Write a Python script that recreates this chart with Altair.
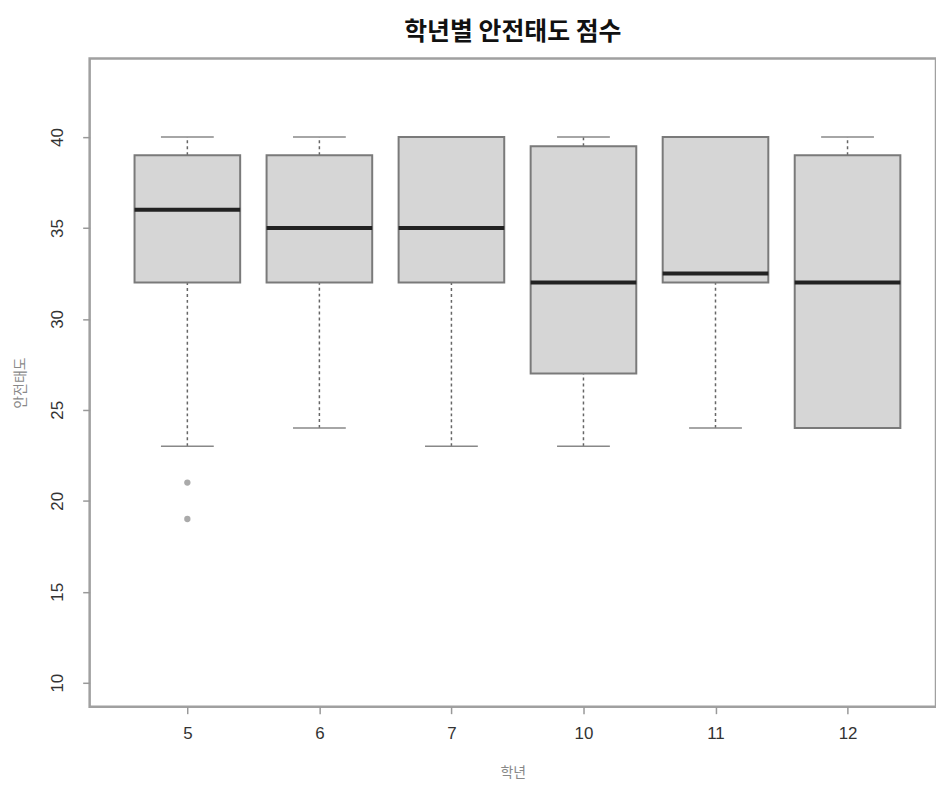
import altair as alt
import pandas as pd

grades = ["5", "6", "7", "10", "11", "12"]
lower_whisker = [23, 24, 23, 23, 24, 24]
q1 = [32, 32, 32, 27, 32, 24]
median = [36, 35, 35, 32, 32.5, 32]
q3 = [39, 39, 40, 39.5, 40, 39]
upper_whisker = [40, 40, 40, 40, 40, 40]

outlier_grade = ["5", "5"]
outlier_value = [21, 19]

positions = list(range(1, len(grades) + 1))
box_df = pd.DataFrame({
    "grade": grades, "pos": positions,
    "lower": lower_whisker, "q1": q1, "median": median,
    "q3": q3, "upper": upper_whisker,
})
out_df = pd.DataFrame({
    "grade": outlier_grade,
    "pos": [positions[grades.index(g)] for g in outlier_grade],
    "value": outlier_value,
})

label_map = "{" + ",".join(f"'{p}':'{g}'" for p, g in zip(positions, grades)) + "}"

xscale = alt.Scale(domain=[0.26, 6.67], nice=False, zero=False)
yscale = alt.Scale(domain=[8.68, 44.32], nice=False, zero=False)

x_axis = alt.Axis(
    values=positions, labelExpr=f"{label_map}[datum.value]", title="학년",
    domain=False, grid=False, tickSize=7, tickColor="#999", tickWidth=1.5,
    labelFont="Liberation Sans", labelFontSize=17, labelColor="#333",
    labelPadding=12, labelAngle=0,
    titleFont="Noto Sans CJK KR", titleFontSize=14, titleFontWeight="normal",
    titleColor="#888", titleY=66, titleBaseline="middle",
)
y_axis = alt.Axis(
    values=[10, 15, 20, 25, 30, 35, 40], title="안전태도",
    domain=False, grid=False, tickSize=7, tickColor="#999", tickWidth=1.5,
    labelFont="Liberation Sans", labelFontSize=17, labelColor="#333",
    labelAngle=-90, labelAlign="center", labelBaseline="bottom", labelPadding=16,
    titleFont="Noto Sans CJK KR", titleFontSize=14, titleFontWeight="normal",
    titleColor="#888", titleX=-69, titleY=325.5, titleAngle=-90,
    titleBaseline="middle", titleAlign="center",
)

base = alt.Chart(box_df).transform_calculate(
    left="datum.pos - 0.4", right="datum.pos + 0.4",
    capl="datum.pos - 0.2", capr="datum.pos + 0.2",
)

whisk_low = base.mark_rule(color="#666", strokeWidth=1.5, strokeDash=[3, 3]).encode(
    x=alt.X("pos:Q", scale=xscale, axis=x_axis),
    y=alt.Y("lower:Q", scale=yscale, axis=y_axis),
    y2="q1:Q",
)
whisk_high = base.mark_rule(color="#666", strokeWidth=1.5, strokeDash=[3, 3]).encode(
    x=alt.X("pos:Q", scale=xscale), y=alt.Y("q3:Q", scale=yscale), y2="upper:Q",
)
cap_low = base.mark_rule(color="#888", strokeWidth=1.5).encode(
    x=alt.X("capl:Q", scale=xscale), x2="capr:Q", y=alt.Y("lower:Q", scale=yscale),
)
cap_high = base.mark_rule(color="#888", strokeWidth=1.5).encode(
    x=alt.X("capl:Q", scale=xscale), x2="capr:Q", y=alt.Y("upper:Q", scale=yscale),
)
boxes = base.mark_rect(fill="#d6d6d6", stroke="#7a7a7a", strokeWidth=2).encode(
    x=alt.X("left:Q", scale=xscale), x2="right:Q",
    y=alt.Y("q1:Q", scale=yscale), y2="q3:Q",
)
medians = base.mark_rule(color="#222", strokeWidth=4).encode(
    x=alt.X("left:Q", scale=xscale), x2="right:Q", y=alt.Y("median:Q", scale=yscale),
)
outliers = alt.Chart(out_df).mark_point(
    shape="circle", filled=True, color="#aaa", size=40, opacity=1
).encode(
    x=alt.X("pos:Q", scale=xscale), y=alt.Y("value:Q", scale=yscale),
)

chart = alt.layer(
    whisk_low, whisk_high, cap_low, cap_high, boxes, medians, outliers
).properties(
    width=850, height=651,
    background="white",
    title=alt.TitleParams(
        "학년별 안전태도 점수", font="Noto Sans CJK KR", fontSize=25,
        fontWeight="bold", color="#111", anchor="middle", offset=14,
    ),
    autosize=alt.AutoSizeParams(type="none"),
    padding={"left": 82, "top": 49, "right": 0, "bottom": 90},
).configure_view(
    stroke="#a0a0a0", strokeWidth=2.5
)

chart.save("out.html", embed_options={"renderer": "svg", "actions": False})
